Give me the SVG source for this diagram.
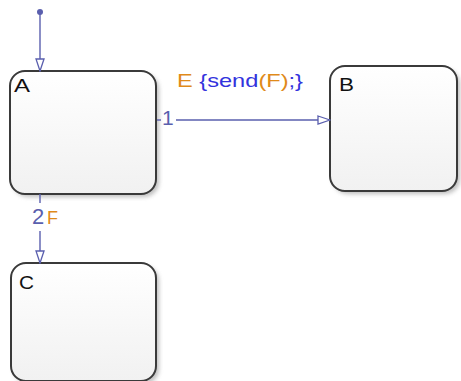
<svg xmlns="http://www.w3.org/2000/svg" width="461" height="381" viewBox="0 0 461 381">
<style>
.st{fill:url(#g);stroke:#3a3a3a;stroke-width:2}
.sh{fill:#8a8a8a;opacity:0.55;filter:url(#blur)}
.nm{font-family:"Liberation Sans",Arial,sans-serif;font-size:18px;fill:#111}
.ln{stroke:#5a5fae;stroke-width:1.4;fill:none}
.lb{font-family:"Liberation Sans",Arial,sans-serif;font-size:19px}
.n1{font-size:21px}
.n2{font-size:22px}
.f2{font-size:18px}
.bl{fill:#5a5fae}
.or{fill:#e08a1a}
.kw{fill:#3333dd}
</style>
<defs>
<linearGradient id="g" x1="0" y1="0" x2="0" y2="1">
<stop offset="0" stop-color="#ffffff"/>
<stop offset="1" stop-color="#f1f1f1"/>
</linearGradient>
<filter id="blur" x="-10%" y="-10%" width="120%" height="120%"><feGaussianBlur stdDeviation="2"/></filter>
<marker id="arr" markerWidth="14" markerHeight="10" refX="13" refY="5" orient="auto" markerUnits="userSpaceOnUse">
<path d="M1,1 L13,5 L1,9 Z" fill="#ffffff" stroke="#5a5fae" stroke-width="1.3"/>
</marker>
</defs>
<g id="A">
<rect class="sh" x="13" y="74" width="146" height="123" rx="15"/>
<rect class="st" x="10" y="71" width="146" height="123" rx="15"/>
<text class="nm" x="14" y="92" textLength="16" lengthAdjust="spacingAndGlyphs">A</text>
</g>
<g id="B">
<rect class="sh" x="333" y="69" width="127" height="125" rx="15"/>
<rect class="st" x="330" y="66" width="127" height="125" rx="15"/>
<text class="nm" x="339" y="91" textLength="15" lengthAdjust="spacingAndGlyphs">B</text>
</g>
<g id="C">
<rect class="sh" x="14" y="266" width="145" height="118" rx="15"/>
<rect class="st" x="11" y="263" width="145" height="118" rx="15"/>
<text class="nm" x="19" y="289" textLength="15" lengthAdjust="spacingAndGlyphs">C</text>
</g>
<g id="connectors">
<circle cx="40" cy="12" r="3" fill="#5a5fae"/>
<line class="ln" x1="40" y1="12" x2="40" y2="71" marker-end="url(#arr)"/>
<line class="ln" x1="157" y1="120" x2="161" y2="120"/>
<line class="ln" x1="176" y1="120" x2="330" y2="120" marker-end="url(#arr)"/>
<line class="ln" x1="40" y1="194" x2="40" y2="203"/>
<line class="ln" x1="40" y1="231" x2="40" y2="263" marker-end="url(#arr)"/>
<text class="lb n1 bl" x="162" y="125">1</text>
<text class="lb" x="177" y="87" textLength="126" lengthAdjust="spacingAndGlyphs"><tspan class="or">E</tspan><tspan class="kw"> {send</tspan><tspan class="or">(F)</tspan><tspan class="kw">;}</tspan></text>
<text class="lb n2 bl" x="32" y="224">2</text>
<text class="lb f2 or" x="47" y="224">F</text>
</g>
</svg>
